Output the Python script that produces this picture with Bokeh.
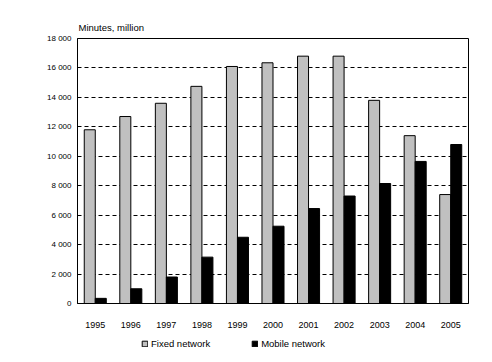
from bokeh.plotting import figure
from bokeh.layouts import column
from bokeh.models import ColumnDataSource, FactorRange, Range1d, FixedTicker, Legend, LegendItem
from bokeh.transform import dodge
from bokeh.embed import file_html
from bokeh.resources import INLINE

years = ["1995", "1996", "1997", "1998", "1999", "2000", "2001", "2002", "2003", "2004", "2005"]
fixed = [11800, 12700, 13600, 14750, 16100, 16350, 16800, 16800, 13800, 11400, 7400]
mobile = [350, 1000, 1800, 3150, 4500, 5250, 6450, 7300, 8150, 9650, 10800]
y_ticks = [0, 2000, 4000, 6000, 8000, 10000, 12000, 14000, 16000, 18000]
y_tick_labels = ["0", "2 000", "4 000", "6 000", "8 000", "10 000", "12 000", "14 000", "16 000", "18 000"]
series_names = ["Fixed network", "Mobile network"]
series_colors = ["#C0C0C0", "black"]
unit_label = "Minutes, million"

src = ColumnDataSource(data=dict(year=years, fixed=fixed, mobile=mobile))

FONT = "Liberation Sans"

p = figure(x_range=FactorRange(*years, range_padding=0), y_range=Range1d(0, 18000),
           width=484, height=334, output_backend="svg", toolbar_location=None,
           min_border_left=77, min_border_right=16, min_border_top=38, min_border_bottom=31)
p.title.text = unit_label
p.title.align = "left"
p.title.offset = 1
p.title.text_font = FONT
p.title.text_font_size = "9.5px"
p.title.text_font_style = "normal"
p.title.text_color = "black"
p.title.standoff = 11

p.vbar(x=dodge("year", -0.155, range=p.x_range), top="fixed", width=0.31, source=src,
       fill_color=series_colors[0], line_color="black", line_width=1)
p.vbar(x=dodge("year", 0.155, range=p.x_range), top="mobile", width=0.31, source=src,
       fill_color=series_colors[1], line_color="black", line_width=1)

p.outline_line_color = "black"
p.outline_line_width = 1
p.background_fill_color = "white"
p.border_fill_color = "white"

p.xgrid.grid_line_color = None
p.ygrid.grid_line_color = "black"
p.ygrid.grid_line_dash = "4 3"
p.ygrid.grid_line_width = 1
p.ygrid.level = "underlay"

p.yaxis.ticker = FixedTicker(ticks=y_ticks)
p.yaxis.major_label_overrides = {t: l for t, l in zip(y_ticks, y_tick_labels)}
p.yaxis.major_tick_out = 0
p.yaxis.major_tick_in = 0
p.yaxis.minor_tick_out = 0
p.yaxis.minor_tick_in = 0
p.yaxis.major_label_standoff = 6
p.yaxis.major_label_text_font = FONT
p.yaxis.major_label_text_font_size = "8px"
p.yaxis.major_label_text_color = "black"
p.yaxis.axis_line_color = "black"

p.xaxis.major_tick_out = 0
p.xaxis.major_tick_in = 0
p.xaxis.major_label_standoff = 18
p.xaxis.major_label_text_font = FONT
p.xaxis.major_label_text_font_size = "9px"
p.xaxis.major_label_text_color = "black"
p.xaxis.axis_line_color = "black"

# legend strip below the chart: its bars sit below its visible y window,
# so only the legend itself shows
lp = figure(width=484, height=22, output_backend="svg", toolbar_location=None,
            x_range=FactorRange(*years, range_padding=0), y_range=Range1d(20000, 30000),
            x_axis_type=None, y_axis_type=None, min_border=0)
lp.outline_line_color = None
lp.xgrid.grid_line_color = None
lp.ygrid.grid_line_color = None
lp.background_fill_color = "white"
lp.border_fill_color = "white"
lr1 = lp.vbar(x="year", top="fixed", width=0.3, source=src,
              fill_color=series_colors[0], line_color="black", line_width=1)
lr2 = lp.vbar(x="year", top="mobile", width=0.3, source=src,
              fill_color=series_colors[1], line_color="black", line_width=1)
legend = Legend(items=[LegendItem(label=series_names[0], renderers=[lr1]),
                       LegendItem(label=series_names[1], renderers=[lr2])],
                orientation="horizontal", location=(64, 7),
                padding=0, margin=0, spacing=41, glyph_width=7, glyph_height=7,
                label_height=10, label_standoff=3, label_text_font=FONT,
                label_text_font_size="9.5px", label_text_color="black",
                border_line_alpha=0, background_fill_alpha=0)
lp.add_layout(legend)

layout = column(p, lp, spacing=0)
open("out.html", "w").write(file_html(layout, INLINE))
